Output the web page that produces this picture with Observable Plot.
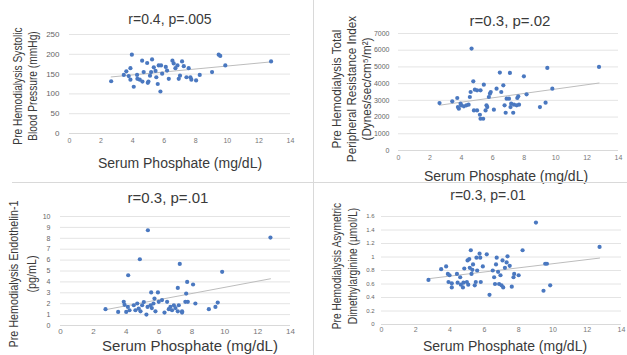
<!DOCTYPE html>
<html>
<head>
<meta charset="utf-8">
<script src="https://cdn.jsdelivr.net/npm/d3@7"></script>
<script src="https://cdn.jsdelivr.net/npm/@observablehq/plot@0.6"></script>
<style>
  html, body { margin: 0; padding: 0; background: #fff; }
  #wrap { position: relative; width: 627px; height: 355px; overflow: hidden; background: #fff; font-family: "Liberation Sans", Arial, sans-serif; }
  .panel { position: absolute; }
  .lbl { position: absolute; white-space: pre; text-align: center; color: #3a3a3a; transform: translate(-50%, -50%); }
  .ylab { position: absolute; white-space: pre; text-align: center; color: #3a3a3a; }
  .divider { position: absolute; background: #d9d9d9; }
</style>
</head>
<body>
<div id="wrap"></div>
<script>
// ---------- data ----------
const xTicks = [0, 2, 4, 6, 8, 10, 12, 14];

// Panel 1: systolic blood pressure (mmHg)
const phosSBP = [2.64,3.95,3.86,3.44,3.75,3.86,4.07,4.28,4.6,4.45,4.7,4.92,4.96,5.0,5.23,5.17,5.34,5.5,5.59,5.76,5.65,5.8,5.87,6.18,6.29,6.52,6.71,6.84,6.92,7.13,7.24,7.41,7.55,7.66,7.72,8.02,8.25,9.03,9.45,9.55,9.87,12.77,4.3,4.62,5.45,6.6,7.0,3.6,5.1,6.1];
const sbp     = [132,199,165,148,145,136,118,148,184,136,155,178,128,131,187,155,167,142,125,106,172,172,151,159,138,184,165,172,138,182,170,142,165,142,136,134,148,155,199,196,172,182,138,131,158,177,146,157,146,168];
const sbpTicks = [0, 50, 100, 150, 200, 250];

// Panel 2: total peripheral resistance index
const phosTPRI = [4.65,2.61,3.42,3.74,3.78,3.95,3.84,4.0,4.16,4.32,4.46,4.54,4.59,4.76,4.86,5.0,5.22,5.43,4.8,5.0,5.18,5.22,5.39,5.54,5.6,5.65,5.75,5.82,5.87,6.07,6.24,6.45,6.54,6.67,6.75,6.82,6.88,7.03,7.09,7.13,7.17,7.3,7.35,7.52,7.56,7.62,7.67,7.98,8.15,9.0,9.36,9.47,9.79,12.76];
const tpri     = [6100,2840,2940,3140,2600,2800,2500,2700,2640,2700,2740,3200,3500,4140,3640,3600,3600,3940,2400,2400,2140,1900,1900,2400,2700,2600,3200,3400,3500,2440,3700,4660,3500,3900,2700,2260,3100,3100,4640,2600,2800,2260,2740,2700,3140,3240,2740,4440,3360,2600,2860,4940,3700,5000];
const tpriTicks = [0, 1000, 2000, 3000, 4000, 5000, 6000, 7000];

// Panel 3: endothelin-1 (pg/mL)
const phosET1 = [5.32,12.78,4.83,7.26,9.84,4.12,7.71,8.07,7.14,5.52,5.93,7.65,2.74,3.51,3.85,3.9,4.0,4.2,4.1,4.46,4.56,4.67,4.76,4.87,4.97,5.07,5.23,5.3,5.48,5.56,5.66,5.72,5.78,5.98,6.18,6.33,6.49,6.59,6.69,6.79,6.9,7.0,7.14,7.2,7.4,7.4,7.6,7.75,8.21,9.03,9.43,9.57];
const et1     = [8.74,8.07,6.08,5.65,4.92,4.61,4.0,3.76,3.45,3.03,3.03,2.93,1.5,1.25,2.17,1.9,1.25,1.4,1.7,1.86,1.4,2.02,1.55,1.3,1.86,2.15,1.0,1.7,1.86,1.6,2.02,2.47,1.3,2.17,2.33,1.19,2.17,1.5,1.7,1.4,1.86,1.6,1.3,1.86,1.19,1.3,2.17,2.17,2.02,1.5,1.7,2.1];
const et1Ticks = [0, 1, 2, 3, 4, 5, 6, 7, 8, 9, 10];

// Panel 4: asymmetric dimethylarginine (µmol/L)
const phosADMA = [9.01,12.72,8.23,2.74,3.48,3.77,3.87,3.97,3.91,4.1,4.1,4.4,4.44,4.59,4.63,4.75,4.78,4.83,4.98,5.02,5.06,5.12,5.15,5.21,5.25,5.3,5.34,5.44,5.5,5.54,5.58,5.72,5.76,5.79,5.91,6.14,6.3,6.49,6.57,6.62,6.68,6.72,6.8,6.86,6.94,7.0,7.06,7.1,7.2,7.3,7.35,7.48,7.6,7.7,7.74,8.0,9.45,9.55,9.65,9.84];
const adma     = [1.51,1.15,1.1,0.66,0.82,0.86,0.75,0.73,0.63,0.61,0.55,0.75,0.62,0.7,0.59,0.55,0.62,0.83,0.63,0.95,0.59,0.97,0.84,1.1,0.75,0.81,0.89,0.58,0.63,0.99,0.8,1.05,0.99,0.63,0.86,1.04,0.44,0.8,0.7,0.6,0.89,0.99,0.78,0.6,0.73,0.58,0.95,0.55,0.84,0.92,1.01,0.87,0.56,0.7,0.75,0.73,0.5,0.9,0.9,0.58];
const admaTicks = [0, 0.2, 0.4, 0.6, 0.8, 1, 1.2, 1.4, 1.6];

const titles = ["r=0.4, p=.005", "r=0.3, p=.02", "r=0.3, p=.01", "r=0.3, p=.01"];
const xTitle = "Serum Phosphate (mg/dL)";
const yTitles = [
  "Pre Hemodialysis Systolic\nBlood Pressure (mmHg)",
  "Pre Hemodialysis Total\nPeripheral Resistance Index\n(Dynes/sec/cm\u2075/m\u00B2)",
  "Pre Hemodialysis Endothelin-1\n(pg/mL)",
  "Pre Hemodialysis Asymetric\nDimethylarginine (\u00B5mol/L)"
];

// ---------- layout ----------
const wrap = document.getElementById("wrap");
const font = "Liberation Sans, Arial, sans-serif";
const dotColor = "#4a78c0";

const panels = [
  { xs: phosSBP, ys: sbp, yTicks: sbpTicks, left: 0, top: 0, width: 313, height: 182,
    mL: 69, mR: 23, mT: 34, mB: 49, yFont: 8, xFont: 7, xPad: 5, yPad: 10,
    title: { x: 170, y: 19, size: 14 }, xt: { x: 180, y: 163, size: 14 },
    yl: { cx: 25.5, cy: 86, size: 12, sx: 0.85, lh: 15 } },
  { xs: phosTPRI, ys: tpri, yTicks: tpriTicks, left: 313, top: 0, width: 314, height: 182,
    mL: 85, mR: 9, mT: 33, mB: 32, yFont: 7, xFont: 7, xPad: 5, yPad: 9,
    title: { x: 510, y: 20, size: 15 }, xt: { x: 506, y: 176, size: 14 },
    yl: { cx: 351, cy: 89, size: 13, sx: 0.9, lh: 15 } },
  { xs: phosET1, ys: et1, yTicks: et1Ticks, left: 0, top: 182, width: 313, height: 173,
    mL: 60, mR: 23, mT: 34, mB: 30, yFont: 7, xFont: 8, xPad: 3, yPad: 10,
    title: { x: 168, y: 197, size: 15 }, xt: { x: 190, y: 345, size: 15 },
    yl: { cx: 22.5, cy: 274, size: 12.5, sx: 0.86, lh: 18 } },
  { xs: phosADMA, ys: adma, yTicks: admaTicks, left: 313, top: 182, width: 314, height: 173,
    mL: 68, mR: 6, mT: 34, mB: 31, yFont: 6, xFont: 7, xPad: 3, yPad: 7,
    title: { x: 488, y: 195, size: 14 }, xt: { x: 505, y: 346, size: 14 },
    yl: { cx: 344.5, cy: 266, size: 12, sx: 0.85, lh: 16 } }
];

panels.forEach((p, i) => {
  const data = p.xs.map((x, k) => ({ x, y: p.ys[k] }));
  const yMax = p.yTicks[p.yTicks.length - 1];
  const chart = Plot.plot({
    width: p.width,
    height: p.height,
    marginLeft: p.mL, marginRight: p.mR, marginTop: p.mT, marginBottom: p.mB,
    style: { fontFamily: font, background: "transparent", overflow: "visible" },
    x: { domain: [0, 14] },
    y: { domain: [0, yMax] },
    marks: [
      Plot.gridY(p.yTicks, { stroke: "#e4e4e4", strokeOpacity: 1 }),
      Plot.ruleY([0], { stroke: "#d9d9d9" }),
      Plot.linearRegressionY(data, { x: "x", y: "y", ci: 0, stroke: "#bdbdbd", strokeWidth: 1 }),
      Plot.dot(data, { x: "x", y: "y", r: 2.1, fill: dotColor, stroke: "none" }),
      Plot.axisX(xTicks, { tickSize: 0, tickPadding: p.xPad, fontSize: p.xFont, color: "#777", label: null }),
      Plot.axisY(p.yTicks, { tickSize: 0, tickPadding: p.yPad, fontSize: p.yFont, color: "#666", label: null, tickFormat: d => String(d) })
    ]
  });
  chart.classList.add("panel");
  chart.style.left = p.left + "px";
  chart.style.top = p.top + "px";
  wrap.appendChild(chart);

  const t = document.createElement("div");
  t.className = "lbl";
  t.textContent = titles[i];
  t.style.left = p.title.x + "px";
  t.style.top = p.title.y + "px";
  t.style.fontSize = p.title.size + "px";
  wrap.appendChild(t);

  const xt = document.createElement("div");
  xt.className = "lbl";
  xt.textContent = xTitle;
  xt.style.left = p.xt.x + "px";
  xt.style.top = p.xt.y + "px";
  xt.style.fontSize = p.xt.size + "px";
  wrap.appendChild(xt);

  const yl = document.createElement("div");
  yl.className = "ylab";
  yl.textContent = yTitles[i];
  yl.style.left = p.yl.cx + "px";
  yl.style.top = p.yl.cy + "px";
  yl.style.fontSize = p.yl.size + "px";
  yl.style.lineHeight = p.yl.lh + "px";
  yl.style.transform = `translate(-50%, -50%) rotate(-90deg) scaleX(${p.yl.sx})`;
  wrap.appendChild(yl);
});

// panel dividers
const vDiv = document.createElement("div");
vDiv.className = "divider";
Object.assign(vDiv.style, { left: "313px", top: "0px", width: "1px", height: "355px" });
wrap.appendChild(vDiv);
const hDiv = document.createElement("div");
hDiv.className = "divider";
Object.assign(hDiv.style, { left: "12px", top: "182px", width: "615px", height: "1px" });
wrap.appendChild(hDiv);
</script>
</body>
</html>
